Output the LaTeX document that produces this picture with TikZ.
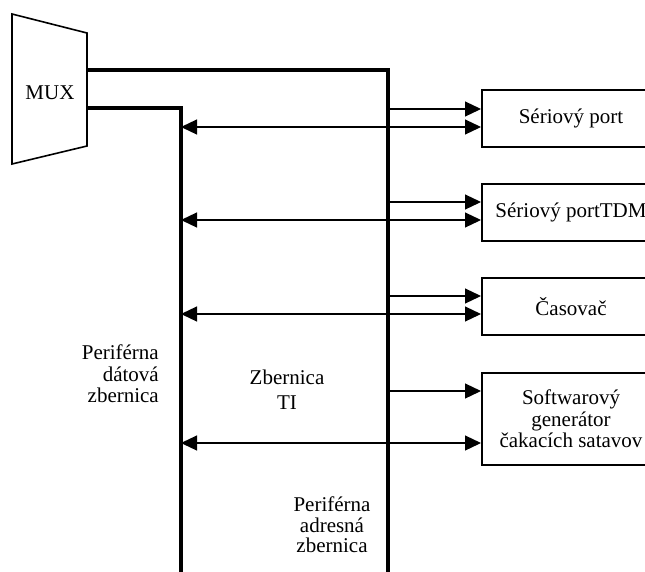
\documentclass[tikz,border=0pt]{standalone}
\usepackage{fontspec}
\setmainfont{Liberation Serif}
\usetikzlibrary{arrows.meta}
\newcommand\lblfont{\fontsize{21}{21.5}\selectfont}
\begin{document}
\begin{tikzpicture}[x=1pt,y=-1pt,
  >={Triangle[length=16pt,width=15pt]},
  bus/.style={line width=4.5pt, line join=miter, line cap=butt},
  link/.style={line width=1.2pt},
  unit/.style={draw, line width=2pt, minimum width=178pt, minimum height=57pt,
    anchor=north west, inner sep=0pt, font=\lblfont, align=center},
  lbl/.style={font=\lblfont, inner sep=0pt}]
\useasboundingbox (0,0) rectangle (645,571);

% multiplexer
\draw[line width=1.6pt, line join=miter] (12,14) -- (87,33) -- (87,146) -- (12,164) -- cycle;
\node[lbl] (mux) at (50,93) {MUX};

% bus lines leaving the multiplexer
\coordinate (muxA) at (87,70);
\coordinate (muxD) at (87,108);
\coordinate (aTop) at (388,70);
\coordinate (aEnd) at (388,580);
\coordinate (dTop) at (181,108);
\coordinate (dEnd) at (181,580);
\draw[bus] (muxA) -- (aTop) -- (aEnd);
\draw[bus] (muxD) -- (dTop) -- (dEnd);

% peripheral units
\node[unit] (s1) at (481,89) {Sériový port};
\node[unit] (s2) at (481,183) {Sériový portTDM};
\node[unit] (s3) at (481,277) {Časovač};
\node[unit, minimum height=92pt] (s4) at (481,372) {Softwarový\\generátor\\čakacích satavov};

% taps on the address bus and the data bus
\coordinate (a1) at (388,109); \coordinate (d1) at (181,127);
\coordinate (a2) at (388,202); \coordinate (d2) at (181,220);
\coordinate (a3) at (388,296); \coordinate (d3) at (181,314);
\coordinate (a4) at (388,391); \coordinate (d4) at (181,443);
\foreach \i in {1,...,4} {
  \draw[link,->] (a\i) -- (a\i -| s\i.west);
  \draw[link,<->] (d\i) -- (d\i -| s\i.west);
}

% bus names
\node[lbl, align=right, anchor=east] (ldata) at (159,374) {Periférna\\dátová\\zbernica};
\node[lbl, align=center, font=\fontsize{21}{25}\selectfont] (lti) at (287,390) {Zbernica\\TI};
\node[lbl, align=center, font=\fontsize{21}{20.5}\selectfont] (laddr) at (332,525) {Periférna\\adresná\\zbernica};
\end{tikzpicture}
\end{document}
